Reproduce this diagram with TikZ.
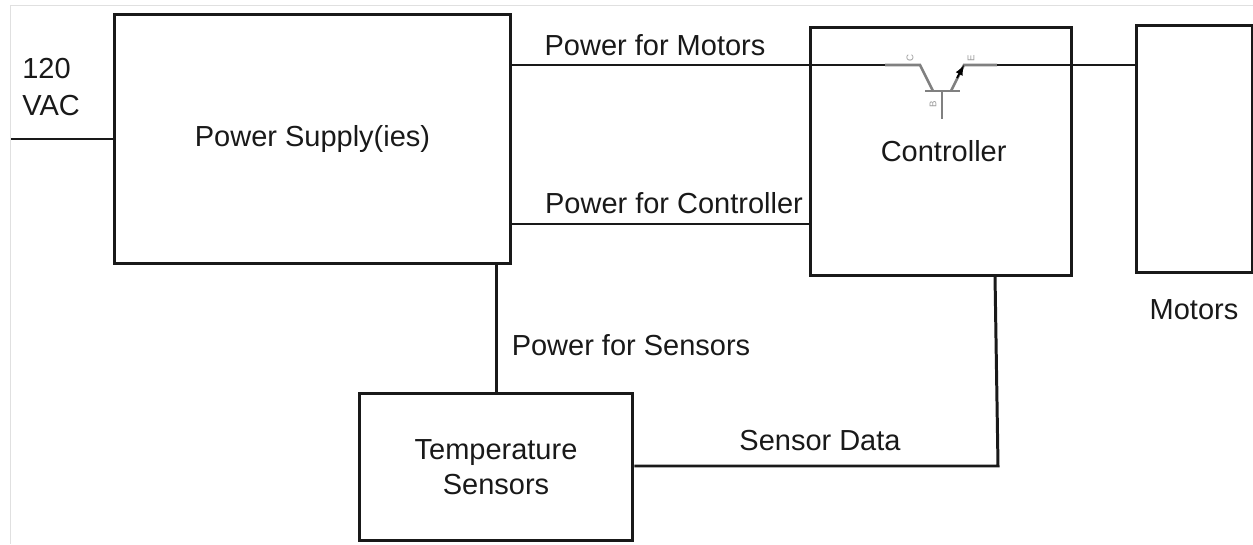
\documentclass[tikz,border=0pt]{standalone}
\usepackage{fontspec}
\setmainfont{Liberation Sans}
\tikzset{>=latex}
\tikzset{
    wire/.style={line width=1.7pt, black!90},
    pin/.style={line width=1.5pt, black!50},
    block/.style={draw, line width=1.7pt, black!90, inner sep=0pt, align=center, text=black!90},
    tag/.style={inner sep=0pt, text=black!90},
    pinname/.style={inner sep=0pt, text=black!40, font=\fontsize{5.5}{6}\selectfont, rotate=90}
}
\begin{document}
\begin{tikzpicture}[x=.02cm, y=-.02cm, font=\fontsize{16.5}{19.3}\selectfont]
    \useasboundingbox(0, 0)rectangle(1253, 544);
    \draw[black!12](10, 544)--(10, 5)--(1253, 5);
    % blocks
    \node[block, minimum width=7.94cm, minimum height=5cm](power)at(312.5, 139){Power Supply(ies)};
    \node[block, minimum width=5.24cm, minimum height=4.98cm](controller)at(941, 151.5){\hspace*{3pt}Controller};
    \node[block, minimum width=2.32cm, minimum height=4.96cm](motors)at(1194, 149){};
    \node[block, minimum width=5.48cm, minimum height=2.96cm](sensors)at(496, 467){Temperature\\[.7pt]Sensors};
    % transistor
    \coordinate(inmain)at(11, 139);
    \coordinate(cout)at(885, 65);
    \coordinate(cbend)at(920, 65);
    \coordinate(cbase)at(933, 91);
    \coordinate(bl)at(925, 91);
    \coordinate(br)at(960, 91);
    \coordinate(bmid)at(942, 91);
    \coordinate(bend)at(942, 119);
    \coordinate(ebase)at(951, 91);
    \coordinate(earrow)at(957, 78);
    \coordinate(ebend)at(964, 65);
    \coordinate(eout)at(997, 65);
    \draw[pin](cout)--(cbend)--(cbase);
    \draw[pin](bl)--(br);
    \draw[pin](bmid)--(bend);
    \draw[pin](ebase)--(ebend)--(eout);
    \draw[->, line width=1pt, black](earrow)--(ebend);
    \node[pinname](cname)at(910, 58){C};
    \node[pinname](ename)at(971, 58){E};
    \node[pinname](bname)at(933, 104){B};
    % connectors
    \coordinate(ctrlin)at(810, 224);
    \coordinate(sensorup)at(496, 393);
    \coordinate(databend)at(998, 466);
    \draw[wire](inmain)--(inmain-|power.west);
    \draw[wire](power.east|-cout)--(cout);
    \draw[wire](eout)--(eout-|motors.west);
    \draw[wire](power.east|-ctrlin)--(ctrlin);
    \draw[wire](power.south-|sensorup)--(sensorup);
    \draw[wire](sensors.east|-databend)--(databend)--(995, 276);
    % labels
    \node[tag, align=left, anchor=west](mainname)at(22, 87){120\\[2pt]VAC};
    \node[tag](motorpower)at(655, 45){Power for Motors};
    \node[tag](ctrlpower)at(674, 203){Power for Controller};
    \node[tag](sensorpower)at(631, 345){Power for Sensors};
    \node[tag](dataname)at(820, 441){Sensor Data};
    \node[tag](motorsname)at(1194, 310){Motors};
\end{tikzpicture}
\end{document}
